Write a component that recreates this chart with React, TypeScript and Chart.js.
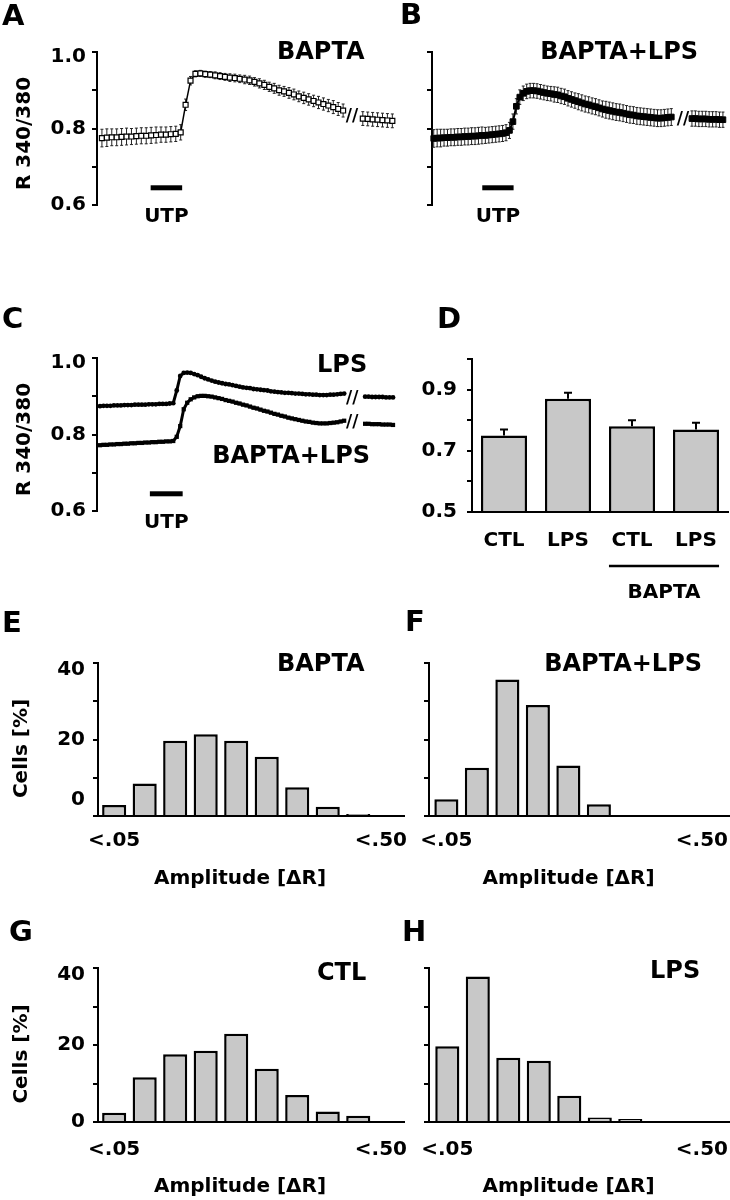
import React, { useEffect, useRef } from 'react';
import { Chart, registerables } from 'chart.js';

Chart.register(...registerables);

// ---------------- data ----------------
// Panels A–C: R 340/380 per sample (sample index on x); null = time break "//"
const RATIO_TICKS = [0.6, 0.7, 0.8, 0.9, 1.0];
const RATIO_TICK_LABELS = ['0.6', '', '0.8', '', '1.0'];
const UTP_LEVEL = 0.645;

const A_RATIO = [
  0.775, 0.776, 0.777, 0.777, 0.778, 0.779, 0.779, 0.780, 0.781, 0.781,
  0.782, 0.783, 0.784, 0.784, 0.785, 0.786, 0.790,
  0.862, 0.925, 0.943, 0.944, 0.942, 0.941, 0.939, 0.937, 0.935, 0.933,
  0.932, 0.930, 0.928, 0.926, 0.922, 0.918, 0.914, 0.909, 0.905, 0.900,
  0.897, 0.893, 0.889, 0.884, 0.880, 0.876, 0.872, 0.868, 0.864, 0.860,
  0.856, 0.851, 0.847,
  null, null, null,
  0.826, 0.825, 0.824, 0.823, 0.822, 0.821, 0.820,
];
const A_SEM = [
  0.023, 0.023, 0.022, 0.022, 0.022, 0.022, 0.021, 0.021, 0.021, 0.021,
  0.021, 0.021, 0.020, 0.020, 0.020, 0.020, 0.020,
  0.015, 0.011, 0.008, 0.008, 0.008, 0.008, 0.009, 0.009, 0.009, 0.010,
  0.010, 0.010, 0.011, 0.011, 0.011, 0.012, 0.012, 0.012, 0.013, 0.013,
  0.013, 0.014, 0.014, 0.014, 0.015, 0.015, 0.015, 0.016, 0.016, 0.016,
  0.017, 0.017, 0.017,
  null, null, null,
  0.018, 0.018, 0.018, 0.018, 0.018, 0.018, 0.018,
];
const A_UTP = [9.9, 16.3];
const A_BREAK = 50.8;

const B_RATIO = [
  0.774, 0.775, 0.775, 0.776, 0.776, 0.777, 0.777, 0.778, 0.778, 0.779,
  0.779, 0.780, 0.780, 0.781, 0.782, 0.782, 0.783, 0.784, 0.785, 0.786,
  0.787, 0.789, 0.795, 0.818, 0.858, 0.882, 0.892, 0.897, 0.899, 0.899,
  0.898, 0.896, 0.894, 0.892, 0.891, 0.889, 0.888, 0.885, 0.883, 0.879,
  0.876, 0.873, 0.870, 0.867, 0.864, 0.862, 0.859, 0.857, 0.854, 0.851,
  0.849, 0.847, 0.845, 0.843, 0.842, 0.840, 0.838, 0.836, 0.835, 0.833,
  0.832, 0.831, 0.830, 0.829, 0.828, 0.827, 0.827, 0.828, 0.829, 0.830,
  null, null, null, null, null,
  0.826, 0.826, 0.825, 0.825, 0.825, 0.824, 0.824, 0.824, 0.823, 0.823,
];
const B_SEM = [
  0.023, 0.023, 0.023, 0.022, 0.022, 0.022, 0.022, 0.022, 0.022, 0.022,
  0.022, 0.022, 0.022, 0.022, 0.022, 0.021, 0.021, 0.021, 0.021, 0.021,
  0.021, 0.021, 0.021, 0.020, 0.020, 0.019, 0.019, 0.019, 0.019, 0.019,
  0.019, 0.019, 0.019, 0.019, 0.019, 0.020, 0.020, 0.020, 0.020, 0.020,
  0.020, 0.020, 0.021, 0.021, 0.021, 0.021, 0.021, 0.021, 0.021, 0.021,
  0.022, 0.022, 0.022, 0.022, 0.022, 0.022, 0.022, 0.022, 0.022, 0.022,
  0.022, 0.022, 0.022, 0.022, 0.022, 0.022, 0.022, 0.022, 0.022, 0.022,
  null, null, null, null, null,
  0.020, 0.020, 0.020, 0.020, 0.020, 0.020, 0.020, 0.020, 0.020, 0.020,
];
const B_UTP = [14.1, 23.2];
const B_BREAK = 72.4;

const C_LPS = [
  0.874, 0.875, 0.875, 0.875, 0.876, 0.876, 0.876, 0.877, 0.877, 0.877,
  0.878, 0.878, 0.878, 0.878, 0.879, 0.879, 0.879, 0.880, 0.880, 0.880,
  0.881, 0.882, 0.915, 0.953, 0.961, 0.962, 0.961, 0.958, 0.955, 0.951,
  0.947, 0.944, 0.941, 0.938, 0.936, 0.934, 0.932, 0.931, 0.929, 0.927,
  0.925, 0.923, 0.922, 0.921, 0.919, 0.918, 0.917, 0.916, 0.915, 0.913,
  0.912, 0.911, 0.910, 0.909, 0.909, 0.908, 0.907, 0.907, 0.906, 0.905,
  0.905, 0.904, 0.904, 0.903, 0.903, 0.903, 0.904, 0.904, 0.905, 0.906,
  0.907,
  null, null, null, null, null,
  0.899, 0.899, 0.898, 0.898, 0.898, 0.898, 0.897, 0.897, 0.897,
];
const C_BAPTA_LPS = [
  0.772, 0.773, 0.773, 0.774, 0.774, 0.775, 0.775, 0.776, 0.776, 0.777,
  0.777, 0.778, 0.778, 0.779, 0.779, 0.780, 0.780, 0.781, 0.781, 0.782,
  0.782, 0.783, 0.794, 0.822, 0.866, 0.883, 0.892, 0.897, 0.900, 0.901,
  0.901, 0.900, 0.899, 0.897, 0.895, 0.893, 0.890, 0.888, 0.886, 0.883,
  0.881, 0.878, 0.876, 0.873, 0.870, 0.868, 0.865, 0.862, 0.860, 0.857,
  0.854, 0.852, 0.849, 0.847, 0.844, 0.842, 0.840, 0.838, 0.836, 0.834,
  0.833, 0.831, 0.830, 0.829, 0.829, 0.829, 0.830, 0.831, 0.832, 0.834,
  0.836,
  null, null, null, null, null,
  0.828, 0.828, 0.827, 0.827, 0.827, 0.826, 0.826, 0.826, 0.825,
];
const C_UTP = [14.3, 23.7];
const C_BREAK = 72.3;

// Panel D: mean amplitude ± SEM
const D_GROUPS = ['CTL', 'LPS', 'CTL', 'LPS'];
const D_MEAN = [0.75, 0.87, 0.78, 0.77];
const D_SEM = [0.02, 0.02, 0.02, 0.022];
const D_TICKS = [0.5, 0.6, 0.7, 0.8, 0.9, 1.0];
const D_TICK_LABELS = ['0.5', '', '0.7', '', '0.9', ''];

// Panels E–H: amplitude distributions (% of cells)
const AMP_BINS = ['<.05', '<.10', '<.15', '<.20', '<.25', '<.30', '<.35', '<.40', '<.45', '<.50'];
const CELL_TICKS = [0, 10, 20, 30, 40];
const CELL_TICK_LABELS = ['0', '', '20', '', '40'];
const E_BAPTA = [2.9, 8.5, 19.7, 21.4, 19.7, 15.5, 7.5, 2.4, 0.5, 0];
const F_BAPTA_LPS = [4.4, 12.6, 35.7, 29.0, 13.2, 3.1, 0, 0, 0, 0];
const G_CTL = [2.4, 11.6, 17.6, 18.5, 22.9, 13.8, 7.0, 2.7, 1.6, 0];
const H_LPS = [19.7, 37.8, 16.7, 15.9, 6.8, 1.2, 0.8, 0, 0, 0];

// ---------------- helpers ----------------
const FAMILY = '"DejaVu Sans", "Liberation Sans", sans-serif';
Chart.defaults.font.family = FAMILY;
const bold = (size: number, lineHeight: any = 1.2) => ({ family: FAMILY, size, weight: 'bold', lineHeight });
const BAR_GREY = '#c8c8c8';

function put(ctx: CanvasRenderingContext2D, s: string, x: number, y: number, size: number,
  align: CanvasTextAlign = 'left', rot = 0) {
  ctx.save();
  ctx.font = `bold ${size}px ${FAMILY}`;
  ctx.fillStyle = '#000';
  ctx.textAlign = align;
  ctx.textBaseline = 'middle';
  ctx.translate(x, y);
  if (rot) ctx.rotate(rot);
  ctx.fillText(s, 0, 0);
  ctx.restore();
}

function drawErrors(chart: any, mode: string) {
  const ctx = chart.ctx;
  const ys = chart.scales.y;
  chart.data.datasets.forEach((ds: any, i: number) => {
    if (!ds.errors || (ds.errorMode || 'both') !== mode) return;
    const meta = chart.getDatasetMeta(i);
    ctx.save();
    ctx.strokeStyle = ds.errorColor || '#000';
    ctx.lineWidth = ds.errorWidth || 1;
    meta.data.forEach((el: any, j: number) => {
      const raw = ds.data[j];
      const v = raw !== null && typeof raw === 'object' ? raw.y : raw;
      const e = ds.errors[j];
      if (v == null || e == null) return;
      const x = el.x;
      const top = ys.getPixelForValue(v + e);
      const bot = mode === 'up' ? ys.getPixelForValue(v) : ys.getPixelForValue(v - e);
      const c = (ds.errorCap || 4) / 2;
      ctx.beginPath();
      ctx.moveTo(x, top); ctx.lineTo(x, bot);
      ctx.moveTo(x - c, top); ctx.lineTo(x + c, top);
      if (mode === 'both') { ctx.moveTo(x - c, bot); ctx.lineTo(x + c, bot); }
      ctx.stroke();
    });
    ctx.restore();
  });
}

const errorBars = {
  id: 'errorBars',
  beforeDatasetsDraw(chart: any) { drawErrors(chart, 'both'); },
  afterDatasetsDraw(chart: any) { drawErrors(chart, 'up'); },
};

const overlay = (fn: (c: any) => void) => ({ id: 'overlay', afterDraw: (c: any) => fn(c) });

function valueAxis(o: {
  min: number; max: number; step: number; ticks: number[]; labels: string[];
  shifts?: number[]; width: number; padding: number;
}) {
  const find = (v: any) => (v == null ? -1 : o.ticks.findIndex((t) => Math.abs(t - v) < 1e-6));
  return {
    min: o.min,
    max: o.max,
    afterFit: (s: any) => { s.width = o.width; },
    ticks: {
      stepSize: o.step,
      autoSkip: false,
      color: '#000',
      padding: o.padding,
      callback: (v: any) => {
        const i = find(v);
        if (i < 0) return '';
        const s = o.labels[i];
        const sh = (o.shifts && o.shifts[i]) || 0;
        if (!s || !sh) return s;
        return sh > 0 ? ['', s] : [s, ''];
      },
      font: (ctx: any) => {
        const i = find(ctx.tick ? ctx.tick.value : null);
        const sh = i >= 0 && o.shifts ? o.shifts[i] || 0 : 0;
        return sh ? bold(20, `${2 * Math.abs(sh)}px`) : bold(20);
      },
    },
    grid: { display: true, drawOnChartArea: false, drawTicks: true, tickLength: 5, color: '#000', lineWidth: 2 },
    border: { display: true, color: '#000', width: 2 },
  };
}

const baseOptions = (padding: any) => ({
  responsive: false,
  animation: false,
  events: [],
  layout: { padding },
  plugins: { legend: { display: false }, tooltip: { enabled: false }, title: { display: false } },
});

const toXY = (arr: (number | null)[]) => arr.map((v, i) => ({ x: i, y: v }));

function drawUTP(c: any, range: number[]) {
  const { ctx, chartArea: ca, scales: { x, y } } = c;
  const x0 = x.getPixelForValue(range[0]);
  const x1 = x.getPixelForValue(range[1]);
  const yy = y.getPixelForValue(UTP_LEVEL);
  ctx.save();
  ctx.fillStyle = '#000';
  ctx.fillRect(x0, yy - 2.5, x1 - x0, 5);
  ctx.restore();
  put(ctx, 'UTP', (x0 + x1) / 2, ca.bottom + 12, 20, 'center');
}

function drawBreak(c: any, at: number, level: number) {
  const { ctx, scales: { x, y } } = c;
  put(ctx, '//', x.getPixelForValue(at), y.getPixelForValue(level), 17, 'center');
}

// ---------------- panel builders ----------------
const buildA = () => ({
  type: 'line',
  data: {
    datasets: [{
      label: 'BAPTA', data: toXY(A_RATIO), errors: A_SEM, errorCap: 3, errorWidth: 1, errorColor: '#222',
      borderColor: '#000', borderWidth: 1.5, pointStyle: 'rect', pointRadius: 3.5,
      pointBackgroundColor: '#fff', pointBorderColor: '#000', pointBorderWidth: 1.2, spanGaps: false, clip: false,
    }],
  },
  options: {
    ...baseOptions({ left: 0, top: 52, right: 3, bottom: 30 }),
    scales: {
      x: { type: 'linear', min: -1, max: 59.5, display: false },
      y: valueAxis({ min: 0.6, max: 1.0, step: 0.1, ticks: RATIO_TICKS, labels: RATIO_TICK_LABELS, shifts: [0, 0, 0, 0, 5], width: 97, padding: 6 }),
    },
  },
  plugins: [errorBars, overlay((c) => {
    const { ctx, chartArea: ca } = c;
    put(ctx, 'A', 2, 17, 29);
    put(ctx, 'BAPTA', 277, 52.5, 24);
    drawUTP(c, A_UTP);
    drawBreak(c, A_BREAK, 0.83);
    put(ctx, 'R 340/380', 25, (ca.top + ca.bottom) / 2 + 5, 20, 'center', -Math.PI / 2);
  })],
});

const buildB = () => ({
  type: 'line',
  data: {
    datasets: [{
      label: 'BAPTA+LPS', data: toXY(B_RATIO), errors: B_SEM, errorCap: 3, errorWidth: 1, errorColor: '#222',
      borderColor: '#000', borderWidth: 2, pointStyle: 'rect', pointRadius: 4,
      pointBackgroundColor: '#000', pointBorderColor: '#000', pointBorderWidth: 1, spanGaps: false, clip: false,
    }],
  },
  options: {
    ...baseOptions({ left: 0, top: 52, right: 0, bottom: 30 }),
    scales: {
      x: { type: 'linear', min: -0.5, max: 84.6, display: false },
      y: valueAxis({ min: 0.6, max: 1.0, step: 0.1, ticks: RATIO_TICKS, labels: ['', '', '', '', ''], width: 32, padding: 6 }),
    },
  },
  plugins: [errorBars, overlay((c) => {
    const { ctx } = c;
    put(ctx, 'B', 0, 16, 29);
    put(ctx, 'BAPTA+LPS', 298, 52.5, 24, 'right');
    drawUTP(c, B_UTP);
    drawBreak(c, B_BREAK, 0.824);
  })],
});

const buildC = () => ({
  type: 'line',
  data: {
    datasets: [
      {
        label: 'LPS', data: toXY(C_LPS), borderColor: '#000', borderWidth: 3, pointStyle: 'circle', pointRadius: 2.4,
        pointBackgroundColor: '#000', pointBorderColor: '#000', pointBorderWidth: 0, spanGaps: false, clip: false,
      },
      {
        label: 'BAPTA+LPS', data: toXY(C_BAPTA_LPS), borderColor: '#000', borderWidth: 3, pointStyle: 'rect', pointRadius: 3,
        pointBackgroundColor: '#000', pointBorderColor: '#000', pointBorderWidth: 0, spanGaps: false, clip: false,
      },
    ],
  },
  options: {
    ...baseOptions({ left: 0, top: 68, right: 3, bottom: 29 }),
    scales: {
      x: { type: 'linear', min: -0.857, max: 84.857, display: false },
      y: valueAxis({ min: 0.6, max: 1.0, step: 0.1, ticks: RATIO_TICKS, labels: RATIO_TICK_LABELS, shifts: [0, 0, 0, 0, 5], width: 97, padding: 6 }),
    },
  },
  plugins: [overlay((c) => {
    const { ctx, chartArea: ca } = c;
    put(ctx, 'C', 2, 30, 29);
    put(ctx, 'LPS', 317, 76, 24);
    put(ctx, 'BAPTA+LPS', 370, 167, 24, 'right');
    drawUTP(c, C_UTP);
    drawBreak(c, C_BREAK, 0.895);
    drawBreak(c, C_BREAK, 0.831);
    put(ctx, 'R 340/380', 25, (ca.top + ca.bottom) / 2 + 5, 20, 'center', -Math.PI / 2);
  })],
});

const buildD = () => ({
  type: 'bar',
  data: {
    labels: D_GROUPS,
    datasets: [{
      label: 'amplitude', data: D_MEAN, base: 0.5, backgroundColor: BAR_GREY, borderColor: '#000', borderWidth: 2.5,
      barPercentage: 0.72, categoryPercentage: 1, errors: D_SEM, errorMode: 'up', errorCap: 8, errorWidth: 2,
    }],
  },
  options: {
    ...baseOptions({ left: 0, top: 69, right: 2, bottom: 0 }),
    scales: {
      x: {
        type: 'category', offset: true,
        grid: { display: false },
        border: { display: true, color: '#000', width: 2 },
        ticks: { font: bold(20), color: '#000', padding: 9, autoSkip: false, maxRotation: 0 },
        afterFit: (s: any) => { s.height = 98; },
      },
      y: valueAxis({ min: 0.5, max: 1.0, step: 0.1, ticks: D_TICKS, labels: D_TICK_LABELS, width: 72, padding: 10 }),
    },
  },
  plugins: [errorBars, overlay((c) => {
    const { ctx, chartArea: ca } = c;
    put(ctx, 'D', 37, 30, 29);
    const meta = c.getDatasetMeta(0);
    const b2 = meta.data[2];
    const b3 = meta.data[3];
    const l = b2.x - b2.width / 2;
    const r = b3.x + b3.width / 2;
    ctx.save();
    ctx.fillStyle = '#000';
    ctx.fillRect(l, ca.bottom + 54 - 1.25, r - l, 2.5);
    ctx.restore();
    put(ctx, 'BAPTA', (l + r) / 2, ca.bottom + 81, 20, 'center');
  })],
});

function buildHist(o: {
  values: number[]; xMin: number; xMax: number; axisWidth: number; padRight: number; padTop: number;
  xAxisHeight: number; labels: string[]; shifts?: number[]; letter: string; letterX: number; letterY: number;
  title: string; titleX: number; titleAlign: CanvasTextAlign; titleY: number; yTitle: boolean;
  labelDy: number; ampDy: number;
}) {
  return () => ({
    type: 'bar',
    data: {
      datasets: [{
        label: 'cells', data: toXY(o.values), backgroundColor: BAR_GREY, borderColor: '#000', borderWidth: 2.5,
        barPercentage: 0.79, categoryPercentage: 1,
      }],
    },
    options: {
      ...baseOptions({ left: 0, top: o.padTop, right: o.padRight, bottom: 0 }),
      scales: {
        x: {
          type: 'linear', min: o.xMin, max: o.xMax, offset: false,
          grid: { display: false },
          ticks: { display: false },
          border: { display: true, color: '#000', width: 2 },
          afterFit: (s: any) => { s.height = o.xAxisHeight; },
        },
        y: valueAxis({ min: 0, max: 40, step: 10, ticks: CELL_TICKS, labels: o.labels, shifts: o.shifts, width: o.axisWidth, padding: 8 }),
      },
    },
    plugins: [overlay((c) => {
      const { ctx, chartArea: ca, scales: { x } } = c;
      put(ctx, o.letter, o.letterX, o.letterY, 29);
      put(ctx, o.title, o.titleX, o.titleY, 24, o.titleAlign);
      put(ctx, AMP_BINS[0], x.getPixelForValue(0), ca.bottom + o.labelDy, 20, 'center');
      put(ctx, AMP_BINS[AMP_BINS.length - 1], Math.min(ca.right + 3, c.width - 2), ca.bottom + o.labelDy, 20, 'right');
      put(ctx, 'Amplitude [ΔR]', (ca.left + ca.right) / 2 - 11, ca.bottom + o.ampDy, 20, 'center');
      if (o.yTitle) put(ctx, 'Cells [%]', 22, (ca.top + ca.bottom) / 2 + 9, 20, 'center', -Math.PI / 2);
    })],
  });
}

const buildE = buildHist({
  values: E_BAPTA, xMin: -0.53, xMax: 9.5, axisWidth: 98, padRight: 8, padTop: 53, xAxisHeight: 84,
  labels: CELL_TICK_LABELS, shifts: [-16, 0, 0, 0, 7], letter: 'E', letterX: 2, letterY: 14,
  title: 'BAPTA', titleX: 277, titleAlign: 'left', titleY: 55, yTitle: true, labelDy: 25, ampDy: 63,
});
const buildF = buildHist({
  values: F_BAPTA_LPS, xMin: -0.57, xMax: 9.3, axisWidth: 29, padRight: 0, padTop: 53, xAxisHeight: 84,
  labels: ['', '', '', '', ''], letter: 'F', letterX: 5, letterY: 13,
  title: 'BAPTA+LPS', titleX: 302, titleAlign: 'right', titleY: 55, yTitle: false, labelDy: 25, ampDy: 63,
});
const buildG = buildHist({
  values: G_CTL, xMin: -0.53, xMax: 9.5, axisWidth: 98, padRight: 8, padTop: 68, xAxisHeight: 78,
  labels: CELL_TICK_LABELS, shifts: [0, 0, 0, 0, 7], letter: 'G', letterX: 9, letterY: 33,
  title: 'CTL', titleX: 317, titleAlign: 'left', titleY: 74, yTitle: true, labelDy: 28, ampDy: 65,
});
const buildH = buildHist({
  values: H_LPS, xMin: -0.6, xMax: 9.27, axisWidth: 29, padRight: 0, padTop: 68, xAxisHeight: 78,
  labels: ['', '', '', '', ''], letter: 'H', letterX: 2, letterY: 33,
  title: 'LPS', titleX: 250, titleAlign: 'left', titleY: 72, yTitle: false, labelDy: 28, ampDy: 65,
});

// ---------------- components ----------------
function Panel({ x, y, w, h, build }: { x: number; y: number; w: number; h: number; build: () => any }) {
  const ref = useRef<HTMLCanvasElement>(null);
  useEffect(() => {
    const chart = new Chart(ref.current as HTMLCanvasElement, build());
    return () => chart.destroy();
  }, [build]);
  return (
    <canvas
      ref={ref}
      width={w}
      height={h}
      style={{ position: 'absolute', left: x, top: y, width: w, height: h, display: 'block' }}
    />
  );
}

export default function App() {
  return (
    <div style={{ position: 'absolute', left: 0, top: 0, width: 730, height: 1200, background: '#fff', overflow: 'hidden' }}>
      <Panel x={0} y={0} w={400} h={235} build={buildA} />
      <Panel x={400} y={0} w={330} h={235} build={buildB} />
      <Panel x={0} y={290} w={400} h={250} build={buildC} />
      <Panel x={400} y={290} w={330} h={320} build={buildD} />
      <Panel x={0} y={610} w={412} h={290} build={buildE} />
      <Panel x={400} y={610} w={330} h={290} build={buildF} />
      <Panel x={0} y={900} w={412} h={300} build={buildG} />
      <Panel x={400} y={900} w={330} h={300} build={buildH} />
    </div>
  );
}
